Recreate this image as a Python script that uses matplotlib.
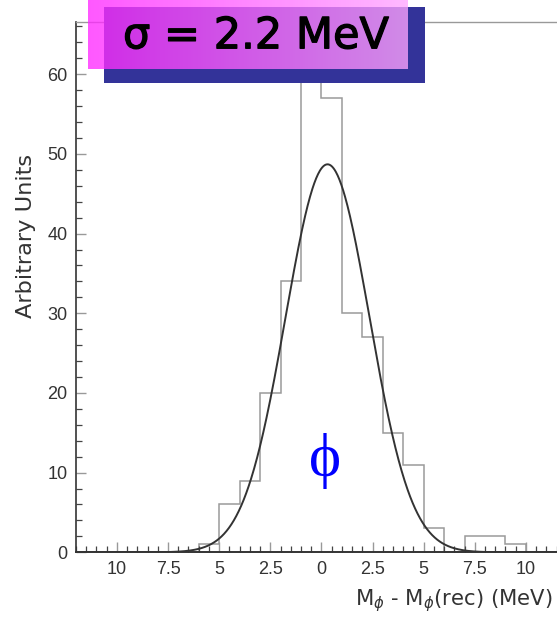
import numpy as np
import matplotlib
matplotlib.use("Agg")
import matplotlib.pyplot as plt
from matplotlib.patches import Rectangle
import matplotlib.patheffects as pe
from matplotlib.ticker import MultipleLocator, FixedLocator, FixedFormatter

# ---- data ----
bin_edges = [-6, -5, -4, -3, -2, -1, 0, 1, 2, 3, 4, 5, 6, 7, 8, 9, 10]
bin_counts = [1, 6, 9, 20, 34, 63, 57, 30, 27, 15, 11, 3, 0, 2, 2, 1]
fit_amplitude = 48.7
fit_mean = 0.3
fit_sigma = 2.05
xtick_values = [-10, -7.5, -5, -2.5, 0, 2.5, 5, 7.5, 10]
xtick_labels = ["10", "7.5", "5", "2.5", "0", "2.5", "5", "7.5", "10"]
ytick_values = [0, 10, 20, 30, 40, 50, 60]
box_text = "\u03c3 = 2.2 MeV"

W, H = 557, 623
fig = plt.figure(figsize=(W / 100, H / 100), dpi=100)

ax = fig.add_axes([76 / W, 1 - 552.3 / H, 490.8 / W, (552.3 - 21.7) / H])
ax.set_xlim(-12, 12)
ax.set_ylim(0, 66.6)

ax.stairs(bin_counts, bin_edges, color="#9a9a9a", lw=1.1, baseline=0)
xs = np.linspace(-12, 12, 800)
ax.plot(xs, fit_amplitude * np.exp(-0.5 * ((xs - fit_mean) / fit_sigma) ** 2),
        color="#333333", lw=1.4)

ax.text(0.17, 11.5, "\u03d5", color="#0000ff", fontsize=44,
        family=["Liberation Serif", "DejaVu Serif"], ha="center", va="center")

ax.spines["right"].set_visible(False)
ax.spines["top"].set_color("#999999")
ax.spines["left"].set_color("#333333")
ax.spines["bottom"].set_color("#333333")
ax.spines["left"].set_linewidth(1.2)
ax.spines["bottom"].set_linewidth(1.4)
ax.spines["top"].set_linewidth(1.0)

ax.xaxis.set_major_locator(FixedLocator(xtick_values))
ax.xaxis.set_major_formatter(FixedFormatter(xtick_labels))
ax.xaxis.set_minor_locator(MultipleLocator(0.5))
ax.yaxis.set_major_locator(FixedLocator(ytick_values))
ax.yaxis.set_minor_locator(MultipleLocator(2))
ax.tick_params(which="both", direction="in", top=False, right=False)
ax.tick_params(which="major", length=7.5, width=1.0, color="#999999",
               labelsize=13, labelcolor="#333333", pad=6)
ax.tick_params(which="minor", length=4, width=0.9, color="#444444")
for lab in ax.get_xticklabels() + ax.get_yticklabels():
    lab.set_family("Liberation Sans")

fig.text(26 / W, 1 - 236 / H, "Arbitrary Units", rotation=90, ha="center",
         va="center", fontsize=16.2, color="#333333", family="DejaVu Sans")
fig.text(355 / W, 1 - 605.7 / H, r"M$_{\phi}$ - M$_{\phi}$(rec) (MeV)",
         ha="left", va="baseline", fontsize=15.2, color="#333333",
         family="DejaVu Sans")

# ---- title box overlay ----
ov = fig.add_axes([0, 0, 1, 1], zorder=10)
ov.set_xlim(0, W)
ov.set_ylim(H, 0)
ov.axis("off")
ov.add_patch(Rectangle((104, 7), 321, 76.3, facecolor="#333399", edgecolor="none"))
grad = np.linspace(0, 1, 256)
c0 = np.array([255, 40, 255]) / 255
c1 = np.array([255, 165, 255]) / 255
img = (c0[None, None, :] * (1 - grad[None, :, None]) + c1[None, None, :] * grad[None, :, None])
ov.imshow(img, extent=(88.3, 408.3, 69, 0), aspect="auto", alpha=0.78,
          interpolation="bilinear", zorder=2)
ov.set_xlim(0, W)
ov.set_ylim(H, 0)
ov.text(255.5, 48.3, box_text, ha="center", va="baseline", fontsize=31,
        color="black", family="DejaVu Sans", zorder=3,
        path_effects=[pe.withStroke(linewidth=0.9, foreground="black")])

fig.savefig("out.png", dpi=100)
